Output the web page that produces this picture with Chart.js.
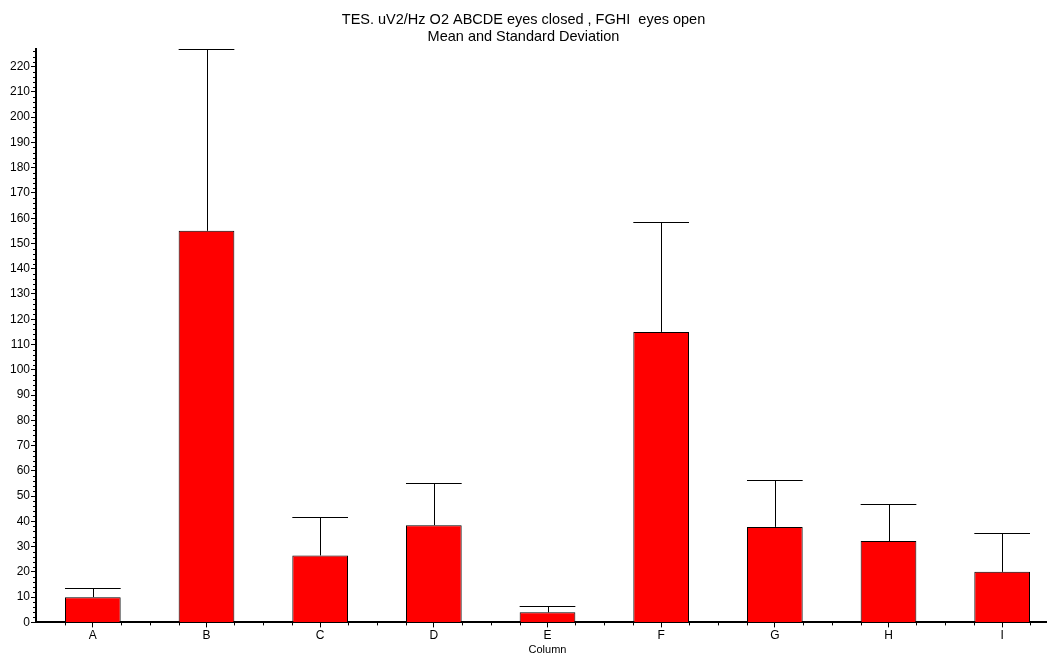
<!DOCTYPE html>
<html>
<head>
<meta charset="utf-8">
<script src="https://cdn.jsdelivr.net/npm/chart.js@4/dist/chart.umd.min.js"></script>
<style>
  html, body { margin: 0; padding: 0; background: #fff; }
  #wrap { width: 1047px; height: 655px; }
</style>
</head>
<body>
<div id="wrap"><canvas id="chart"></canvas></div>
<script>
// data
const columns = ['A', 'B', 'C', 'D', 'E', 'F', 'G', 'H', 'I'];
const means = [10, 155, 26.5, 38.5, 4, 115, 37.8, 32.2, 20];
const sdTops = [13.8, 226.8, 41.8, 55, 6.3, 158.3, 56.3, 46.7, 35.5];
const titleLines = ['TES. uV2/Hz O2 ABCDE eyes closed , FGHI  eyes open', 'Mean and Standard Deviation'];

Chart.defaults.font.family = 'Arial, "Liberation Sans", sans-serif';
Chart.defaults.color = '#000';

// the x axis runs a bit past the right edge of the canvas in the original
const stretchX = {
  id: 'stretchX',
  afterLayout(chart) {
    const x = chart.scales.x;
    x.right += 12;
    x.width += 12;
    x.configure();
  }
};

// error bars + minor ticks
const extras = {
  id: 'extras',
  afterDatasetsDraw(chart) {
    const ctx = chart.ctx;
    const x = chart.scales.x, y = chart.scales.y;
    const meta = chart.getDatasetMeta(0);
    ctx.save();
    ctx.strokeStyle = '#000';
    ctx.lineWidth = 1;
    meta.data.forEach((bar, i) => {
      const half = bar.width / 2;
      const yTop = Math.round(y.getPixelForValue(sdTops[i])) + 0.5;
      const yBar = y.getPixelForValue(means[i]);
      const cx = Math.round(bar.x) + 0.5;
      ctx.beginPath();
      ctx.moveTo(cx, yBar);
      ctx.lineTo(cx, yTop);
      ctx.moveTo(bar.x - half, yTop);
      ctx.lineTo(bar.x + half, yTop);
      ctx.stroke();
      // small ticks under bar edges and category boundaries
      const base = chart.chartArea.bottom;
      const step = x.getPixelForValue(1) - x.getPixelForValue(0);
      [bar.x - half, bar.x + half, bar.x + step / 2].forEach(px => {
        const p = Math.round(px) + 0.5;
        ctx.beginPath();
        ctx.moveTo(p, base);
        ctx.lineTo(p, base + 3);
        ctx.stroke();
      });
    });
    // minor y ticks every 2
    const left = chart.chartArea.left;
    for (let v = 2; v < y.max; v += 2) {
      if (v % 10 === 0) continue;
      const p = Math.round(y.getPixelForValue(v)) + 0.5;
      ctx.beginPath();
      ctx.moveTo(left - 3, p);
      ctx.lineTo(left, p);
      ctx.stroke();
    }
    ctx.restore();
  }
};

new Chart(document.getElementById('chart').getContext('2d'), {
  type: 'bar',
  data: {
    labels: columns,
    datasets: [{
      data: means,
      backgroundColor: '#ff0000',
      borderColor: '#000',
      borderWidth: 1,
      barPercentage: 0.49,
      categoryPercentage: 1
    }]
  },
  options: {
    responsive: true,
    maintainAspectRatio: false,
    animation: false,
    layout: { padding: { left: 0, right: 0, top: 0, bottom: -2 } },
    plugins: {
      legend: { display: false },
      tooltip: { enabled: false },
      title: {
        display: true,
        text: titleLines,
        font: { size: 14.5, weight: 'normal', lineHeight: 1.17 },
        color: '#000',
        padding: { top: 12, bottom: 3 }
      }
    },
    scales: {
      x: {
        offset: true,
        border: { color: '#000', width: 2 },
        grid: { drawOnChartArea: false, offset: false, tickLength: 5, color: '#000' },
        ticks: { font: { size: 12 }, padding: 1, color: '#000' },
        title: { display: true, text: 'Column', font: { size: 11 }, padding: 0, color: '#000' }
      },
      y: {
        min: 0,
        max: 227,
        afterFit(scale) { scale.width = 36; },
        border: { color: '#000', width: 2 },
        grid: { drawOnChartArea: false, tickLength: 5, color: '#000' },
        ticks: { stepSize: 10, includeBounds: false, font: { size: 12 }, padding: 1, color: '#000' }
      }
    }
  },
  plugins: [stretchX, extras]
});
</script>
</body>
</html>
